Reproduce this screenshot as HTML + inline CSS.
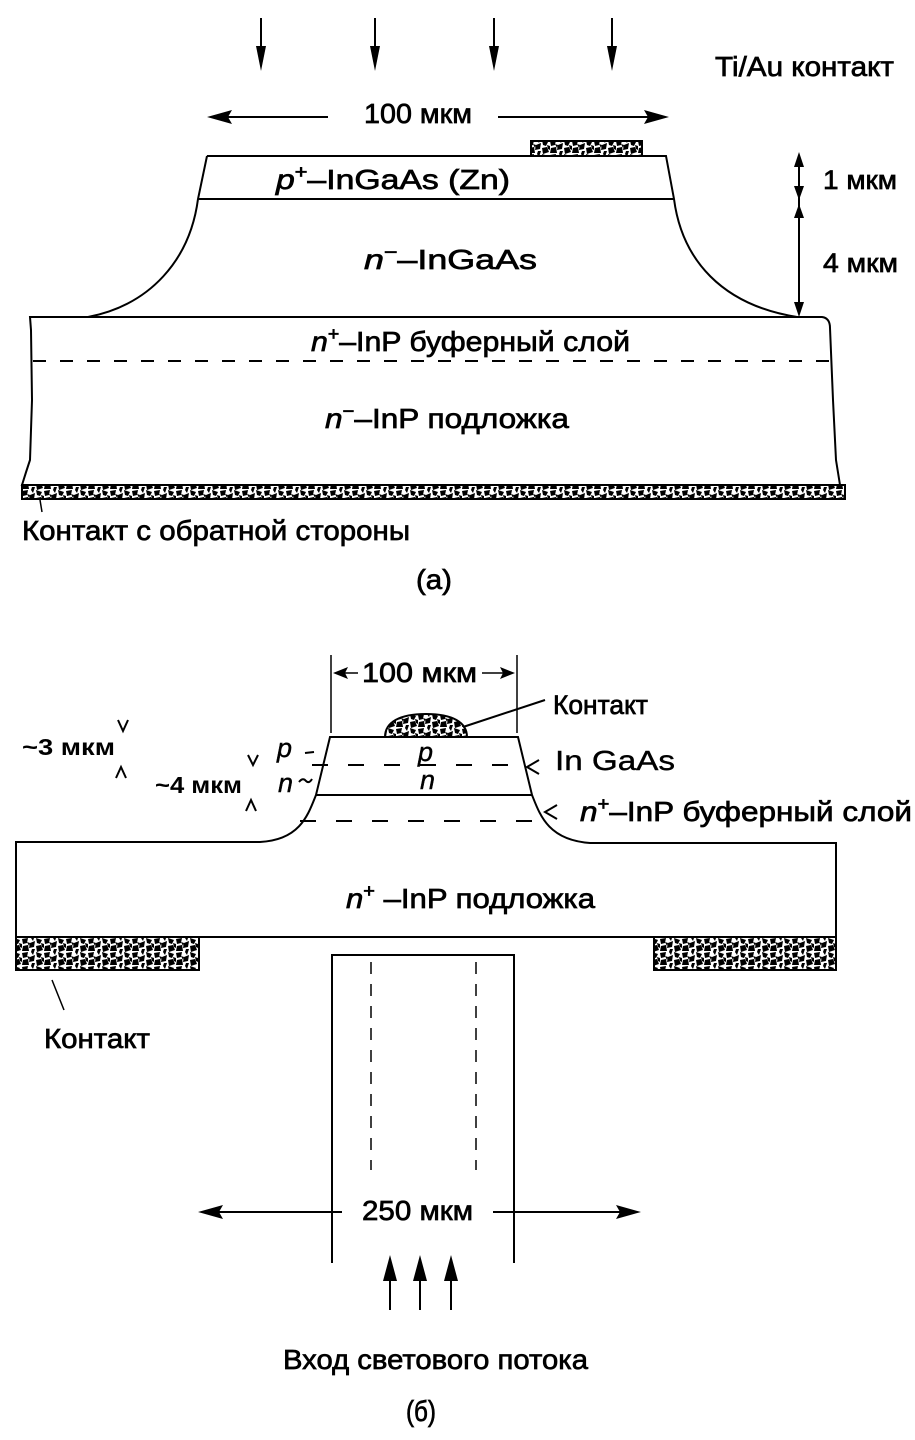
<!DOCTYPE html>
<html>
<head>
<meta charset="utf-8">
<style>
html,body{margin:0;padding:0;background:#fff;}
body{width:915px;height:1440px;overflow:hidden;}
svg{display:block;}
text{font-family:"Liberation Sans Narrow","Liberation Sans",sans-serif;fill:#000;stroke:#000;stroke-width:0.7;}
</style>
</head>
<body>
<svg width="915" height="1440" viewBox="0 0 915 1440" xmlns="http://www.w3.org/2000/svg">
<defs>
<pattern id="spk" width="22" height="14" patternUnits="userSpaceOnUse">
<rect width="22" height="14" fill="#fff"/>
<path d="M0,1 L6,0 L5,5 L1,6 Z M8,5 L13,3 L12,9 L7,10 Z M14,0 L20,2 L18,6 L15,5 Z M1,8 L6,7 L7,13 L0,13 Z M14,8 L19,7 L21,12 L15,14 Z M9,0 L12,0 L11,3Z M19,5 L22,6 L22,10 L20,9Z M5,4 L8,5 L7,8Z M10,11 L13,11 L12,14 L9,14Z" fill="#000"/>
</pattern>
</defs>

<g stroke="#000" fill="none" stroke-width="2">
<line x1="261" y1="18" x2="261" y2="55"/>
<line x1="375" y1="18" x2="375" y2="55"/>
<line x1="494" y1="18" x2="494" y2="55"/>
<line x1="612" y1="18" x2="612" y2="55"/>
</g>
<g fill="#000">
<polygon points="256,46 266,46 261,71"/>
<polygon points="370,46 380,46 375,71"/>
<polygon points="489,46 499,46 494,71"/>
<polygon points="607,46 617,46 612,71"/>
</g>

<g stroke="#000" stroke-width="2" fill="none">
<line x1="220" y1="117" x2="328" y2="117"/>
<line x1="498" y1="117" x2="656" y2="117"/>
</g>
<polygon points="207,117 232,110 228,117 232,124" fill="#000"/>
<polygon points="669,117 644,110 648,117 644,124" fill="#000"/>

<rect x="531" y="141" width="111" height="15" fill="url(#spk)" stroke="#000" stroke-width="2"/>

<path d="M207,156 L666,156 L674,199 C682,260 722,305 797,317 M207,156 L198,199 C190,260 150,305 88,317 M198,199 L674,199" fill="none" stroke="#000" stroke-width="2"/>

<path d="M30,317 L822,317 Q830,318 830,328 L833,400 L836,460 L840,485 L22,485 Q26,472 30,460 L32,400 L31,330 Z" fill="none" stroke="#000" stroke-width="2"/>
<line x1="33" y1="361" x2="834" y2="361" stroke="#000" stroke-width="2" stroke-dasharray="13,14"/>

<rect x="22" y="485" width="823" height="14" fill="url(#spk)" stroke="#000" stroke-width="2"/>
<line x1="40" y1="500" x2="42" y2="512" stroke="#000" stroke-width="1.5"/>

<line x1="799" y1="160" x2="799" y2="310" stroke="#000" stroke-width="2"/>
<polygon points="799,152 794,167 804,167" fill="#000"/>
<polygon points="799,200 794,186 804,186" fill="#000"/>
<polygon points="799,204 794,218 804,218" fill="#000"/>
<polygon points="799,317 794,302 804,302" fill="#000"/>

<text x="715" y="76" font-size="28" textLength="179" lengthAdjust="spacingAndGlyphs">Ti/Au контакт</text>
<text x="364" y="123" font-size="28" textLength="108" lengthAdjust="spacingAndGlyphs">100 мкм</text>
<text x="276" y="189" font-size="28" textLength="234" lengthAdjust="spacingAndGlyphs"><tspan font-style="italic">p</tspan><tspan font-size="18" dy="-11">+</tspan><tspan dy="11">–InGaAs (Zn)</tspan></text>
<text x="364" y="269" font-size="28" textLength="173" lengthAdjust="spacingAndGlyphs"><tspan font-style="italic">n</tspan><tspan font-size="18" dy="-11">−</tspan><tspan dy="11">–InGaAs</tspan></text>
<text x="823" y="189" font-size="27" textLength="74" lengthAdjust="spacingAndGlyphs">1 мкм</text>
<text x="823" y="272" font-size="27" textLength="75" lengthAdjust="spacingAndGlyphs">4 мкм</text>
<text x="311" y="351" font-size="28" textLength="319" lengthAdjust="spacingAndGlyphs"><tspan font-style="italic">n</tspan><tspan font-size="18" dy="-11">+</tspan><tspan dy="11">–InP буферный слой</tspan></text>
<text x="325" y="428" font-size="28" textLength="244" lengthAdjust="spacingAndGlyphs"><tspan font-style="italic">n</tspan><tspan font-size="18" dy="-11">−</tspan><tspan dy="11">–InP подложка</tspan></text>
<text x="22" y="540" font-size="28" textLength="388" lengthAdjust="spacingAndGlyphs">Контакт с обратной стороны</text>
<text x="416" y="589" font-size="28" textLength="36" lengthAdjust="spacingAndGlyphs">(а)</text>

<g stroke="#000" stroke-width="1.5" fill="none">
<line x1="331" y1="655" x2="331" y2="733"/>
<line x1="517" y1="655" x2="517" y2="733"/>
<line x1="340" y1="673" x2="358" y2="673"/>
<line x1="482" y1="673" x2="508" y2="673"/>
</g>
<polygon points="333,673 348,667 345,673 348,679" fill="#000"/>
<polygon points="515,673 500,667 503,673 500,679" fill="#000"/>
<text x="362" y="682" font-size="28" textLength="115" lengthAdjust="spacingAndGlyphs">100 мкм</text>

<path d="M385,737 C385,722 400,714 426,714 C452,714 467,722 467,737 Z" fill="url(#spk)" stroke="#000" stroke-width="2"/>
<line x1="463" y1="727" x2="545" y2="700" stroke="#000" stroke-width="2"/>

<path d="M16,937 L16,842 L260,842 C300,840 308,815 316,795 L330,737 L518,737 L532,795 C540,815 548,840 590,843 L836,843 L836,937 Z" fill="none" stroke="#000" stroke-width="2"/>
<line x1="316" y1="795" x2="532" y2="795" stroke="#000" stroke-width="2"/>
<line x1="312" y1="765" x2="528" y2="765" stroke="#000" stroke-width="2" stroke-dasharray="16,20"/>
<line x1="300" y1="821" x2="545" y2="821" stroke="#000" stroke-width="2" stroke-dasharray="16,20"/>

<polyline points="539,760 527,767 539,774" fill="none" stroke="#000" stroke-width="2"/>
<polyline points="557,805 545,812 557,819" fill="none" stroke="#000" stroke-width="2"/>

<rect x="16" y="937" width="183" height="33" fill="url(#spk)" stroke="#000" stroke-width="2"/>
<rect x="654" y="937" width="182" height="33" fill="url(#spk)" stroke="#000" stroke-width="2"/>
<line x1="52" y1="980" x2="64" y2="1010" stroke="#000" stroke-width="1.5"/>

<g stroke="#000" stroke-width="2" fill="none">
<polyline points="332,1263 332,955 514,955 514,1263"/>
</g>
<g stroke="#000" stroke-width="1.5" stroke-dasharray="12,10" fill="none">
<line x1="371" y1="962" x2="371" y2="1170"/>
<line x1="476" y1="962" x2="476" y2="1170"/>
</g>

<g stroke="#000" stroke-width="2" fill="none">
<line x1="210" y1="1212" x2="342" y2="1212"/>
<line x1="493" y1="1212" x2="628" y2="1212"/>
<line x1="390" y1="1275" x2="390" y2="1310"/>
<line x1="420" y1="1275" x2="420" y2="1310"/>
<line x1="451" y1="1275" x2="451" y2="1310"/>
</g>
<polygon points="198,1212 223,1205 219,1212 223,1219" fill="#000"/>
<polygon points="641,1212 616,1205 620,1212 616,1219" fill="#000"/>
<polygon points="390,1255 383,1281 397,1281" fill="#000"/>
<polygon points="420,1255 413,1281 427,1281" fill="#000"/>
<polygon points="451,1255 444,1281 458,1281" fill="#000"/>

<text x="553" y="714" font-size="27" textLength="95" lengthAdjust="spacingAndGlyphs">Контакт</text>
<text x="555" y="770" font-size="28" textLength="120" lengthAdjust="spacingAndGlyphs" style="font-family:'Liberation Sans',sans-serif;stroke-width:0.4">In GaAs</text>
<text x="580" y="821" font-size="28" textLength="332" lengthAdjust="spacingAndGlyphs"><tspan font-style="italic">n</tspan><tspan font-size="18" dy="-11">+</tspan><tspan dy="11">–InP буферный слой</tspan></text>

<text x="22" y="755" font-size="23" textLength="93" lengthAdjust="spacingAndGlyphs" style="font-family:'Liberation Sans',sans-serif;font-weight:bold;stroke-width:0">~3 мкм</text>
<polyline points="118,720 123,731 128,720" fill="none" stroke="#000" stroke-width="2"/>
<polyline points="116,778 121,767 126,778" fill="none" stroke="#000" stroke-width="2"/>
<text x="155" y="793" font-size="23" textLength="87" lengthAdjust="spacingAndGlyphs" style="font-family:'Liberation Sans',sans-serif;font-weight:bold;stroke-width:0">~4 мкм</text>
<polyline points="248,755 253,765 258,755" fill="none" stroke="#000" stroke-width="2"/>
<polyline points="246,811 251,800 256,811" fill="none" stroke="#000" stroke-width="2"/>

<text x="277" y="757" font-size="27" font-style="italic" style="font-family:'Liberation Sans',sans-serif;stroke-width:0.4">p</text>
<line x1="305" y1="753" x2="314" y2="752" stroke="#000" stroke-width="2"/>
<text x="278" y="792" font-size="27" font-style="italic" style="font-family:'Liberation Sans',sans-serif;stroke-width:0.4">n</text>
<path d="M299,782 Q303,777 306,781 Q309,784 312,779" fill="none" stroke="#000" stroke-width="2"/>

<text x="418" y="761" font-size="27" font-style="italic" style="font-family:'Liberation Sans',sans-serif;stroke-width:0.4">p</text>
<text x="420" y="789" font-size="27" font-style="italic" style="font-family:'Liberation Sans',sans-serif;stroke-width:0.4">n</text>

<text x="346" y="908" font-size="28" textLength="249" lengthAdjust="spacingAndGlyphs"><tspan font-style="italic">n</tspan><tspan font-size="18" dy="-11">+</tspan><tspan dy="11"> –InP подложка</tspan></text>
<text x="44" y="1048" font-size="28" textLength="106" lengthAdjust="spacingAndGlyphs">Контакт</text>
<text x="362" y="1220" font-size="28" textLength="111" lengthAdjust="spacingAndGlyphs">250 мкм</text>
<text x="283" y="1369" font-size="28" textLength="305" lengthAdjust="spacingAndGlyphs">Вход светового потока</text>
<text x="406" y="1421" font-size="29" textLength="30" lengthAdjust="spacingAndGlyphs">(б)</text>
</svg>
</body>
</html>
